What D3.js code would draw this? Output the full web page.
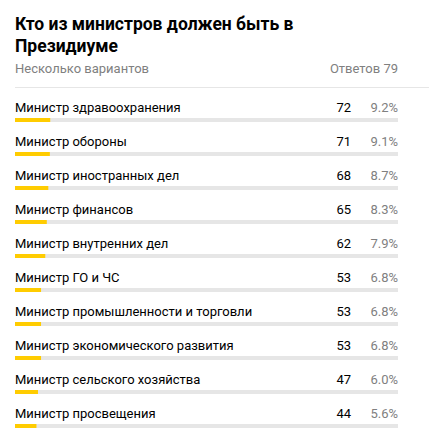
<!DOCTYPE html>
<html>
<head>
<meta charset="utf-8">
<script src="https://cdn.jsdelivr.net/npm/d3@7"></script>
<style>
  body { margin: 0; background: #fff; }
  svg { display: block; font-family: Roboto, "Noto Sans", sans-serif; }
</style>
</head>
<body>
<svg width="429" height="435"></svg>
<script>
var titleLines = ["Кто из министров должен быть в", "Президиуме"];
var subtitle = "Несколько вариантов";
var answersLabel = "Ответов 79";

var ministers = [
  "Министр здравоохранения",
  "Министр обороны",
  "Министр иностранных дел",
  "Министр финансов",
  "Министр внутренних дел",
  "Министр ГО и ЧС",
  "Министр промышленности и торговли",
  "Министр экономического развития",
  "Министр сельского хозяйства",
  "Министр просвещения"
];
var votes = [72, 71, 68, 65, 62, 53, 53, 53, 47, 44];
var percents = [9.2, 9.1, 8.7, 8.3, 7.9, 6.8, 6.8, 6.8, 6.0, 5.6];

var rows = ministers.map(function(m, i) {
  return {name: m, votes: votes[i], pct: percents[i]};
});

var svg = d3.select("svg");
var left = 15, right = 398;

// header
svg.append("text")
  .attr("x", left).attr("y", 30)
  .attr("font-size", 17.5).attr("font-weight", "bold").attr("fill", "#000")
  .selectAll("tspan")
  .data(titleLines)
  .enter().append("tspan")
  .attr("x", left)
  .attr("dy", function(d, i) { return i ? 22 : 0; })
  .text(function(d) { return d; });

svg.append("text")
  .attr("x", left).attr("y", 73)
  .attr("font-size", 13).attr("fill", "#808080")
  .text(subtitle);

svg.append("text")
  .attr("x", right).attr("y", 73)
  .attr("text-anchor", "end")
  .attr("font-size", 13).attr("fill", "#808080")
  .text(answersLabel);

svg.append("line")
  .attr("x1", left).attr("x2", 429)
  .attr("y1", 87.5).attr("y2", 87.5)
  .attr("stroke", "#e6e6e6");

// rows
var y = d3.scaleBand()
  .domain(ministers)
  .range([95, 435])
  .padding(0);

var x = d3.scaleLinear()
  .domain([0, 100])
  .range([0, right - left]);

var row = svg.selectAll("g.row")
  .data(rows)
  .enter().append("g")
  .attr("class", "row")
  .attr("transform", function(d) { return "translate(0," + y(d.name) + ")"; });

row.append("text")
  .attr("x", left).attr("y", 17)
  .attr("font-size", 13).attr("fill", "#000")
  .text(function(d) { return d.name; });

row.append("text")
  .attr("x", 351).attr("y", 17)
  .attr("text-anchor", "end")
  .attr("font-size", 13).attr("fill", "#000")
  .text(function(d) { return d.votes; });

row.append("text")
  .attr("x", right).attr("y", 17)
  .attr("text-anchor", "end")
  .attr("font-size", 13).attr("fill", "#808080")
  .text(function(d) { return d.pct.toFixed(1) + "%"; });

row.append("rect")
  .attr("x", left).attr("y", 23)
  .attr("width", right - left).attr("height", 4)
  .attr("fill", "#e6e6e6");

row.append("rect")
  .attr("x", left).attr("y", 23)
  .attr("width", function(d) { return x(d.pct); })
  .attr("height", 4)
  .attr("fill", "#ffcc00");
</script>
</body>
</html>
